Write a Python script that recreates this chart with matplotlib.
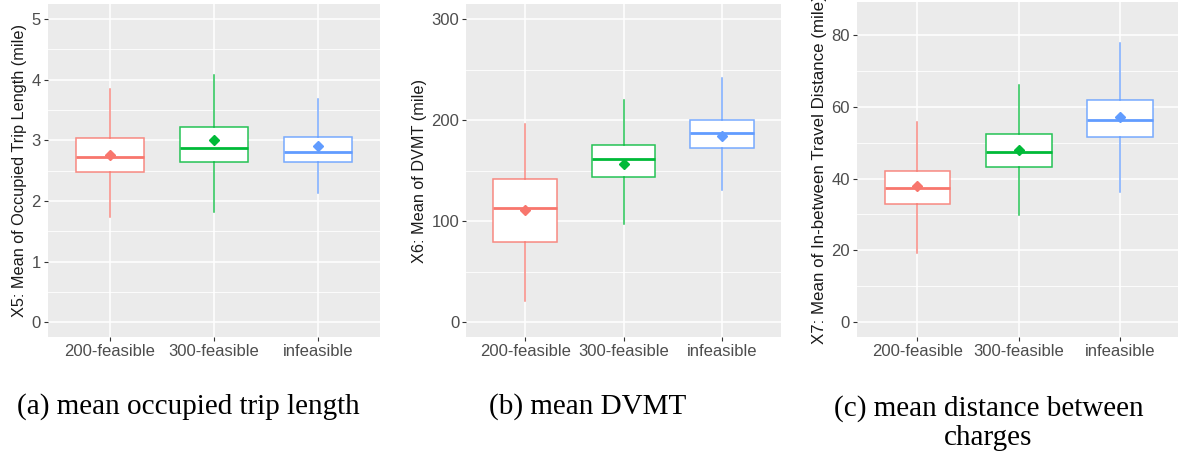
# three ggplot-style boxplots with captions underneath

from matplotlib import pyplot as plt
from matplotlib.colors import to_rgba

groups = ['200-feasible', '300-feasible', 'infeasible']
colors = ['#F8766D', '#00BA38', '#619CFF']

# X5: mean occupied trip length (mile)
x5_lo = [1.73, 1.82, 2.13]
x5_q1 = [2.48, 2.64, 2.64]
x5_med = [2.72, 2.87, 2.80]
x5_q3 = [3.04, 3.22, 3.06]
x5_hi = [3.84, 4.08, 3.68]
x5_mean = [2.76, 3.00, 2.91]

# X6: mean DVMT (mile)
x6_lo = [21.4, 97.1, 131.0]
x6_q1 = [79.4, 144.2, 172.9]
x6_med = [112.9, 162.0, 187.7]
x6_q3 = [142.2, 175.8, 200.5]
x6_hi = [195.9, 220.0, 241.4]
x6_mean = [110.6, 157.0, 184.4]

# X7: mean in-between travel distance (mile)
x7_lo = [19.3, 29.8, 36.2]
x7_q1 = [32.8, 43.2, 51.6]
x7_med = [37.4, 47.4, 56.3]
x7_q3 = [42.1, 52.4, 62.0]
x7_hi = [55.8, 66.0, 77.9]
x7_mean = [37.9, 48.1, 57.3]

W, H = 1178, 454


def px_axes(fig, left, right, top, bottom):
    return fig.add_axes([left / W, (H - bottom) / H, (right - left) / W, (bottom - top) / H])


def draw_panel(ax, lo, q1, med, q3, hi, mean, ylab, ylim, major, minor, ylab_size=11.7):
    ax.set_facecolor('#EBEBEB')
    for s in ax.spines.values():
        s.set_visible(False)
    for y in minor:
        ax.axhline(y, color='white', lw=0.6, zorder=0)
    for y in major:
        ax.axhline(y, color='white', lw=1.1, zorder=0)
    for x in range(1, 4):
        ax.axvline(x, color='white', lw=1.1, zorder=0)

    for i in range(3):
        stats = [{'whislo': lo[i], 'q1': q1[i], 'med': med[i], 'q3': q3[i],
                  'whishi': hi[i], 'mean': mean[i]}]
        c = colors[i]
        ec = to_rgba(c, 0.85)
        ax.bxp(stats, positions=[i + 1], widths=0.65, showmeans=True,
               showfliers=False, showcaps=False, patch_artist=True,
               boxprops=dict(facecolor='white', edgecolor=ec, lw=1.1),
               whiskerprops=dict(color=ec, lw=1.1),
               medianprops=dict(color=c, lw=2.0),
               meanprops=dict(marker='D', markerfacecolor=c, markeredgecolor=c,
                              markersize=5.5),
               zorder=3)

    ax.set_xlim(0.4, 3.6)
    ax.set_ylim(ylim)
    ax.set_xticks([1, 2, 3])
    ax.set_xticklabels(groups)
    ax.set_yticks(major)
    ax.tick_params(colors='#333333', labelcolor='#4D4D4D', labelsize=12,
                   length=3, width=0.8, pad=2)
    ax.set_ylabel(ylab, fontsize=ylab_size, color='#1A1A1A', labelpad=3)


fig = plt.figure(figsize=(W / 100, H / 100), dpi=100)
plt.rcParams['font.family'] = ['Liberation Sans', 'DejaVu Sans']

ax1 = px_axes(fig, 47.6, 380.4, 4, 337.3)
draw_panel(ax1, x5_lo, x5_q1, x5_med, x5_q3, x5_hi, x5_mean,
           'X5: Mean of Occupied Trip Length (mile)', (-0.25, 5.25),
           [0, 1, 2, 3, 4, 5], [0.5, 1.5, 2.5, 3.5, 4.5])

ax2 = px_axes(fig, 466.3, 780.7, 4, 337.3)
draw_panel(ax2, x6_lo, x6_q1, x6_med, x6_q3, x6_hi, x6_mean,
           'X6: Mean of DVMT (mile)', (-15, 315),
           [0, 100, 200, 300], [50, 150, 250])

ax3 = px_axes(fig, 856.7, 1180.8, 2, 337.3)
draw_panel(ax3, x7_lo, x7_q1, x7_med, x7_q3, x7_hi, x7_mean,
           'X7: Mean of In-between Travel Distance (mile)', (-4.25, 89.25),
           [0, 20, 40, 60, 80], [10, 30, 50, 70], ylab_size=12.2)

serif = ['Liberation Serif', 'DejaVu Serif']
fig.text(188.8 / W, (H - 414) / H, '(a) mean occupied trip length',
         ha='center', va='baseline', fontsize=21, family=serif)
fig.text(588 / W, (H - 414) / H, '(b) mean DVMT',
         ha='center', va='baseline', fontsize=21, family=serif)
# baseline given for the last line of the two
fig.text(988.4 / W, (H - 445) / H, '(c) mean distance between\ncharges',
         ha='center', va='baseline', fontsize=21, family=serif,
         multialignment='center', linespacing=1.17)

plt.savefig('out.png', dpi=100)
plt.close()
